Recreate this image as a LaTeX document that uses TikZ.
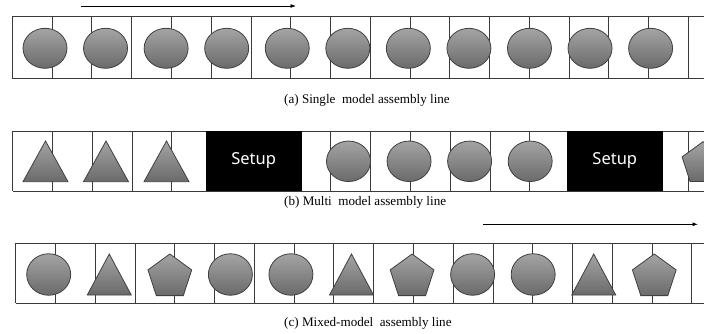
\documentclass[tikz,border=0pt]{standalone}
\usepackage{fontspec}
\setmainfont{Liberation Serif}
\newfontfamily\setupfont{Noto Sans}
\usetikzlibrary{arrows.meta,shapes.geometric}
\definecolor{shtop}{HTML}{A4A4A4}
\definecolor{shbot}{HTML}{6A6A6A}
\definecolor{edgecol}{HTML}{404040}
\definecolor{gridcol}{HTML}{3A3A3A}
\begin{document}
\begin{tikzpicture}[x=1pt,y=-1pt,
  gridline/.style={draw=gridcol,line width=0.75pt},
  part/.style={draw=edgecol,line width=0.8pt,top color=shtop,bottom color=shbot},
  roundpart/.style={part,ellipse,inner sep=0pt,minimum width=44pt,minimum height=40.5pt},
  pentpart/.style={part,regular polygon,regular polygon sides=5,inner sep=0pt,minimum size=46pt},
  flow/.style={draw=black,line width=0.8pt,-{Latex[length=5.5pt,width=4pt]}},
  caption/.style={anchor=base west,inner sep=0pt,font=\fontsize{13.1}{15}\selectfont},
  setupbox/.style={fill=black,draw=none,inner sep=0pt,minimum width=96pt,minimum height=60pt,text=white,font=\setupfont\fontsize{16.5}{18}\selectfont}]
\useasboundingbox (0,0) rectangle (704,333);

% ---------- (a) single model ----------
\coordinate (fa0) at (81,6);
\coordinate (fa1) at (296,6);
\draw[flow] (fa0) -- (fa1);
\foreach \k in {0,...,17}
  \draw[gridline] ({12.3+39.77*\k},16.7) -- ({12.3+39.77*\k},78.3);
\draw[gridline] (12.3,16.7) -- (704,16.7);
\draw[gridline] (12.3,78.3) -- (704,78.3);
\foreach \k in {0,...,10}
  \node[roundpart,minimum height=40pt] (ra\k) at ({45+60.56*\k},48.3) {};
\node[caption] (capa) at (284,103.5) {(a) Single\ \ model assembly line};

% ---------- (b) multi model ----------
\foreach \k in {0,...,17}
  \draw[gridline] ({12.7+39.77*\k},131) -- ({12.7+39.77*\k},191);
\draw[gridline] (12.7,131) -- (704,131);
\draw[gridline] (12.7,191) -- (704,191);
\foreach \k in {0,1,2}
  \path[part] ({45.5+60.5*\k-22.5},181.7) -- ({45.5+60.5*\k},141) -- ({45.5+60.5*\k+22.5},181.7) -- cycle;
\node[setupbox] (setup1) at (253.7,161) {Setup};
\foreach \k in {0,...,3}
  \node[roundpart] (rb\k) at ({348.5+60.56*\k},161.3) {};
\node[setupbox] (setup2) at (614.8,161) {Setup};
\node[pentpart,minimum size=44pt] (pb) at (703,163.7) {};
\node[caption] (capb) at (284,205) {(b) Multi\ \ model assembly line};

% ---------- (c) mixed model ----------
\coordinate (fc0) at (483,224.3);
\coordinate (fc1) at (698,224.3);
\draw[flow] (fc0) -- (fc1);
\foreach \k in {0,...,17}
  \draw[gridline] ({15.7+39.77*\k},243) -- ({15.7+39.77*\k},303.3);
\draw[gridline] (15.7,243) -- (704,243);
\draw[gridline] (15.7,303.3) -- (704,303.3);
\foreach \k in {0,3,4,7,8}
  \node[roundpart,minimum height=41.5pt] (rc\k) at ({48.7+60.56*\k},274.5) {};
\foreach \k in {1,5,9}
  \path[part] ({48.7+60.56*\k-22},295) -- ({48.7+60.56*\k},254) -- ({48.7+60.56*\k+22},295) -- cycle;
\foreach \k in {2,6,10}
  \node[pentpart] (pc\k) at ({48.7+60.56*\k},277) {};
\node[caption] (capc) at (284,326) {(c) Mixed-model\ \ assembly line};
\end{tikzpicture}
\end{document}
